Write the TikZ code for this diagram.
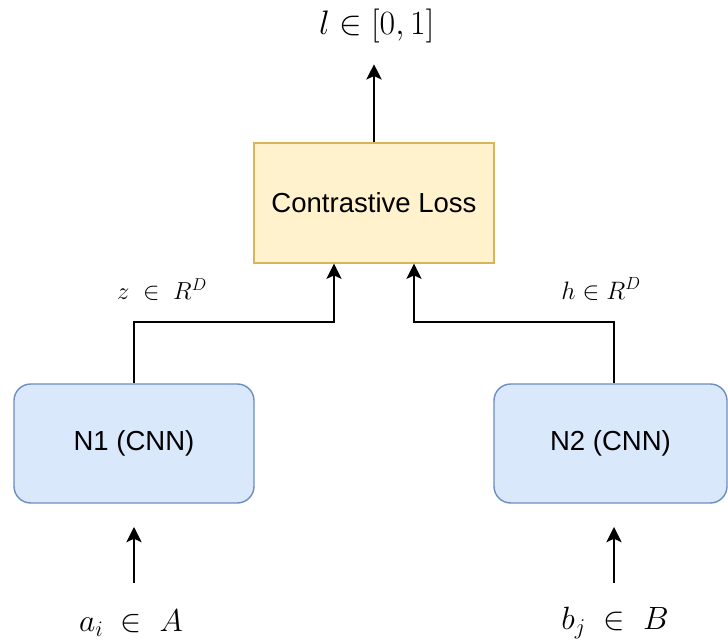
\documentclass[tikz,border=0pt]{standalone}
\usepackage{fix-cm}
\usepackage{fontspec}
\newfontfamily\boxfont{Liberation Sans}
\usetikzlibrary{positioning, arrows.meta}
\definecolor{lossfill}{HTML}{FFF2CC}
\definecolor{lossdraw}{HTML}{D6B656}
\definecolor{cnnfill}{HTML}{DAE8FC}
\definecolor{cnndraw}{HTML}{6C8EBF}

\begin{document}
\begin{tikzpicture}[
    boxtext/.style={font=\boxfont\fontsize{23.5}{28}\selectfont},
    cnnbox/.style={draw=cnndraw, fill=cnnfill, line width=1.2pt, rounded corners=0.5cm,
                   boxtext, minimum height=3.57cm},
    flow/.style={line width=1.6pt, -{Stealth[length=13pt,width=13pt,inset=3pt]}}]
    \useasboundingbox (0,0) rectangle (21.84,19.29);
    \node[draw=lossdraw, fill=lossfill, line width=1.2pt, boxtext,
          minimum width=7.2cm, minimum height=3.6cm] (loss) at (11.22,13.2) {Contrastive Loss};
    \node[cnnbox, minimum width=7.2cm] (n1) at (4.02,5.985) {N1 (CNN)};
    \node[cnnbox, minimum width=6.99cm] (n2) at (18.315,5.985) {N2 (CNN)};
    \node[font=\fontsize{29}{34}\selectfont] (out) at (11.3,18.5) {$l \in [0,1]$};
    \node[font=\fontsize{21}{25}\selectfont] (zlab) at (4.86,10.59) {$z \;\in\; R^D$};
    \node[font=\fontsize{21.5}{25}\selectfont] (hlab) at (18.03,10.62) {$h \in R^D$};
    \node[font=\fontsize{27}{32}\selectfont, anchor=base] (ai) at (3.93,0.33) {$a_i \;\in\; A$};
    \node[font=\fontsize{27.5}{32}\selectfont, anchor=base] (bj) at (18.45,0.39) {$b_j \;\in\; B$};
    \coordinate (ain) at (4.02,1.8);
    \coordinate (bin) at (18.42,1.8);
    \draw[flow] (ain) -- ++(0,1.68);
    \draw[flow] (bin) -- ++(0,1.68);
    \draw[flow] (n1.north) -- ++(0,1.83) -| ([xshift=-1.2cm]loss.south);
    \draw[flow] ([xshift=0.105cm]n2.north) -- ++(0,1.83) -| ([xshift=1.2cm]loss.south);
    \draw[flow] (loss.north) -- ++(0,2.34);
\end{tikzpicture}
\end{document}
